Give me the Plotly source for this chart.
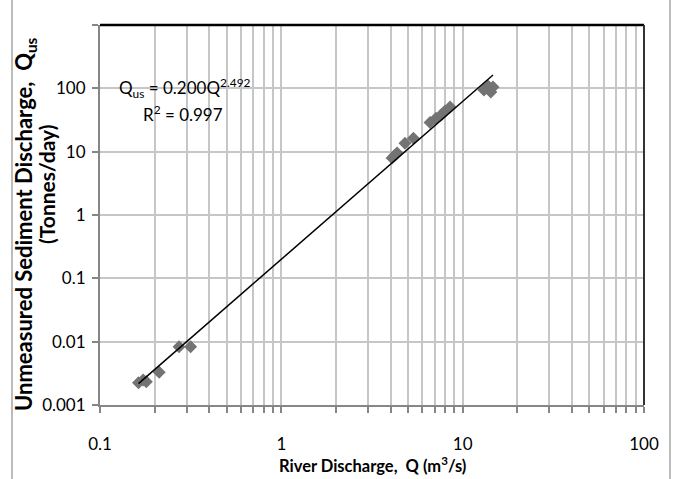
import plotly.graph_objects as go

# ---- data ----
Q = [0.163, 0.173, 0.180, 0.212, 0.273, 0.316, 4.08, 4.24, 4.35, 4.81, 5.35,
     6.61, 7.13, 7.60, 8.00, 8.52, 13.1, 13.8, 14.3, 14.7]
Qus = [0.00225, 0.00248, 0.00233, 0.00328, 0.00833, 0.00833, 7.94, 8.86, 9.53,
       13.6, 16.3, 28.9, 33.7, 37.9, 43.9, 50.7, 94.2, 109, 87.5, 105]
coef = 0.200
expo = 2.492
r2 = 0.997

x_major = [0.1, 1, 10, 100]
x_major_labels = ["0.1", "1", "10", "100"]
y_major = [0.001, 0.01, 0.1, 1, 10, 100, 1000]
y_major_labels = ["0.001", "0.01", "0.1", "1", "10", "100", ""]

# ---- derived ----
x_minor = [round(n * d, 6) for d in [0.1, 1, 10] for n in range(2, 10)]

trend_x = [min(Q), max(Q)]
trend_y = [coef * v ** expo for v in trend_x]

W, H = 683, 479
L, R, T, B = 100, 39, 25, 74
pw, ph = W - L - R, H - T - B


def px(x):
    return (x - L) / pw


def py(y):
    return (H - B - y) / ph


FONT = "Lato"
grid = "#c6c6c6"

fig = go.Figure()
fig.add_trace(go.Scatter(x=Q, y=Qus, mode="markers",
                         marker=dict(symbol="diamond", size=10, color="#737373"),
                         showlegend=False))
fig.add_trace(go.Scatter(x=trend_x, y=trend_y, mode="lines",
                         line=dict(color="black", width=1.5), showlegend=False))

fig.update_layout(
    width=W, height=H,
    margin=dict(l=L, r=R, t=T, b=B),
    paper_bgcolor="white", plot_bgcolor="white",
    font=dict(family=FONT, size=17, color="black"),
    xaxis=dict(type="log", range=[-1, 2], tickmode="array", tickvals=x_major,
               ticktext=x_major_labels, showgrid=True, gridcolor=grid, gridwidth=1.5,
               showline=True, linecolor="#868686", linewidth=2,
               ticks="outside", ticklen=6, tickcolor="#868686", tickwidth=1.5,
               minor=dict(tickmode="array", tickvals=x_minor, ticks="outside",
                          ticklen=6, tickcolor="#868686", tickwidth=1.5,
                          showgrid=True, gridcolor=grid, gridwidth=1.5),
               ticklabelstandoff=17, zeroline=False),
    yaxis=dict(type="log", range=[-3, 3], tickmode="array", tickvals=y_major,
               ticktext=y_major_labels, showgrid=True, gridcolor=grid, gridwidth=1.5,
               showline=True, linecolor="#868686", linewidth=2,
               ticks="outside", ticklen=6, tickcolor="#868686", tickwidth=1.5,
               ticklabelstandoff=3, zeroline=False),
)

# top and right borders of the plot area
fig.add_shape(type="line", xref="paper", yref="paper", x0=0, x1=1, y0=1, y1=1,
              line=dict(color="black", width=2.5))
fig.add_shape(type="line", xref="paper", yref="paper", x0=1, x1=1, y0=0, y1=1,
              line=dict(color="#333333", width=2))
# outer chart frame edges
for xe in [12, 670]:
    fig.add_shape(type="line", xref="paper", yref="paper", x0=px(xe), x1=px(xe),
                  y0=py(0), y1=py(H), line=dict(color="#a6a6a6", width=1.5))

# equation
fig.add_annotation(xref="paper", yref="paper", x=px(117), y=py(88), xanchor="left",
                   yanchor="middle", showarrow=False,
                   text=f"Q<sub>us</sub> = {coef:.3f}Q<sup>{expo}</sup>",
                   font=dict(family=FONT, size=17))
fig.add_annotation(xref="paper", yref="paper", x=px(141), y=py(114), xanchor="left",
                   yanchor="middle", showarrow=False,
                   text=f"R<sup>2</sup> = {r2}", font=dict(family=FONT, size=17))

# axis titles
fig.add_annotation(xref="paper", yref="paper", x=px(372), y=py(465), xanchor="center",
                   yanchor="middle", showarrow=False,
                   text="<b>River Discharge,  Q (m<sup>3</sup>/s)</b>",
                   font=dict(family=FONT, size=16.5))
fig.add_annotation(xref="paper", yref="paper", x=px(25), y=py(224), xanchor="center",
                   yanchor="middle", showarrow=False, textangle=-90,
                   text="<b>Unmeasured Sediment Discharge,  Q<sub>us</sub></b>",
                   font=dict(family=FONT, size=22))
fig.add_annotation(xref="paper", yref="paper", x=px(46), y=py(184), xanchor="center",
                   yanchor="middle", showarrow=False, textangle=-90,
                   text="<b>(Tonnes/day)</b>",
                   font=dict(family=FONT, size=21))

fig.write_html("out.html")
